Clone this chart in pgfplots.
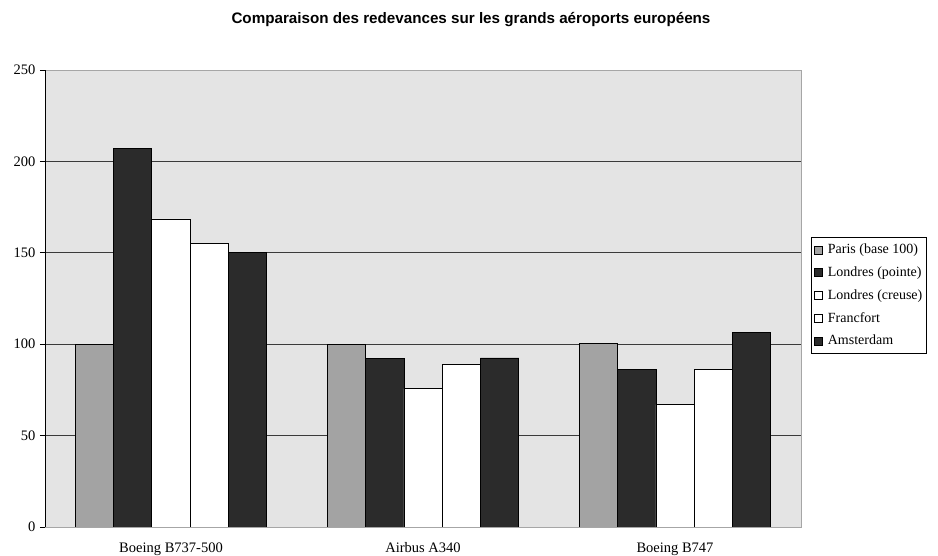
\documentclass[border=0pt]{standalone}
\usepackage{fontspec}
\setmainfont{Liberation Serif}
\newfontfamily\titlefont{Liberation Sans}
\usepackage{pgfplots}
\usetikzlibrary{calc}
\pgfplotsset{compat=1.18}
\definecolor{plotbg}{HTML}{E4E4E4}
\definecolor{parisgray}{HTML}{A3A3A3}
\definecolor{darkbar}{HTML}{2B2B2B}
\definecolor{gridc}{HTML}{3A3A3A}
\begin{document}
\begin{tikzpicture}[x=1pt,y=1pt]
\begin{axis}[
  name=ax,
  scale only axis, width=756pt, height=457pt,
  ybar=0pt, bar width=38.3pt,
  xmin=-0.5, xmax=2.5, ymin=0, ymax=250,
  xtick={0,1,2},
  xticklabels={Boeing B737-500, Airbus A340, Boeing B747},
  x tick style={draw=none},
  ytick={0,50,100,150,200,250},
  ytick pos=left,
  ymajorgrids,
  major grid style={gridc, line width=0.7pt},
  y tick style={black, line width=0.7pt},
  tick align=outside, major tick length=5pt,
  axis background/.style={fill=plotbg},
  axis line style={draw=gray!70},
  /pgf/number format/assume math mode=true,
  tick label style={font=\fontsize{14.5}{16}\selectfont},
  xticklabel style={yshift=-7pt},
  yticklabel style={xshift=-1pt},
  legend style={at={(1.0132,0.6346)}, anchor=north west, draw=black, line width=0.6pt,
    font=\fontsize{14}{16}\selectfont, row sep=7.5pt, inner xsep=3pt, inner ysep=5pt,
    cells={anchor=west}, nodes={inner xsep=1pt},
    /tikz/every odd column/.append style={column sep=4pt}},
  legend image code/.code={\draw[#1, line width=0.6pt] (0pt,-4pt) rectangle (8pt,4pt);},
  every axis plot/.append style={draw=black, line width=0.7pt},
]
\addplot[fill=parisgray] coordinates {(0,100) (1,100) (2,100.5)};
\addplot[fill=darkbar] coordinates {(0,207) (1,92.3) (2,86.4)};
\addplot[fill=white] coordinates {(0,168.5) (1,75.7) (2,67)};
\addplot[fill=white] coordinates {(0,155.2) (1,88.8) (2,86.4)};
\addplot[fill=darkbar] coordinates {(0,150) (1,92.5) (2,106.5)};
\legend{Paris (base 100), Londres (pointe), Londres (creuse), Francfort, Amsterdam}
\draw[black, line width=0.9pt] (rel axis cs:0,0) -- (rel axis cs:0,1);
\draw[black, line width=0.9pt] (rel axis cs:0,0) -- (rel axis cs:1,0);
\end{axis}
\node[font=\titlefont\bfseries\fontsize{15.2}{17}\selectfont] at ($(ax.south west)+(426,507)$) {Comparaison des redevances sur les grands aéroports européens};
\pgfresetboundingbox
\useasboundingbox ($(ax.south west)+(-45,-29)$) rectangle ($(ax.south west)+(893,527)$);
\end{tikzpicture}
\end{document}
